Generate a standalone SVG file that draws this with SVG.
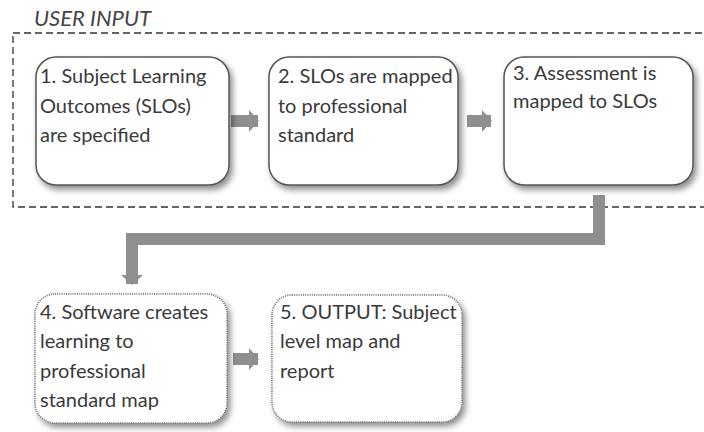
<svg xmlns="http://www.w3.org/2000/svg" width="704" height="432" viewBox="0 0 704 432">
<defs>
<filter id="sh" x="-10%" y="-10%" width="125%" height="130%">
<feDropShadow dx="3" dy="4" stdDeviation="3" flood-color="#000" flood-opacity="0.45"/>
</filter>
<marker id="ah" viewBox="0 0 10 22" refX="9" refY="11" markerWidth="10" markerHeight="22" markerUnits="userSpaceOnUse" orient="auto">
<path d="M0,0 L10,11 L0,22 Z" fill="#8f8f8f"/>
</marker>
</defs>
<style>
.box{fill:#fff;stroke:#555;stroke-width:1.5}
.dot{fill:#fff;stroke:#666;stroke-width:1.5;stroke-dasharray:1 1.2}
.t{font-family:Lato,"Open Sans",sans-serif;font-size:20px;fill:#3a3a3a}
.conn{fill:none;stroke:#8f8f8f;stroke-width:12}
</style>
<text x="34" y="26" font-family="Lato,'Open Sans',sans-serif" font-size="22" font-style="italic" fill="#444">USER INPUT</text>
<rect x="13" y="33" width="700" height="174" fill="none" stroke="#333" stroke-width="1.3" stroke-dasharray="7 4"/>
<g id="connectors">
<line class="conn" x1="231" y1="121" x2="258" y2="121" marker-end="url(#ah)"/>
<line class="conn" x1="467" y1="121" x2="491" y2="121" marker-end="url(#ah)"/>
<polyline class="conn" points="599,195 599,239 132,239 132,284" marker-end="url(#ah)"/>
<line class="conn" x1="233" y1="359" x2="258" y2="359" marker-end="url(#ah)"/>
</g>
<g id="n1">
<rect class="box" x="36" y="57" width="193" height="128" rx="20" filter="url(#sh)"/>
<text class="t" x="40" y="83">1. Subject Learning</text>
<text class="t" x="40" y="113">Outcomes (SLOs)</text>
<text class="t" x="40" y="142">are specified</text>
</g>
<g id="n2">
<rect class="box" x="269" y="57" width="189" height="128" rx="20" filter="url(#sh)"/>
<text class="t" x="278" y="83">2. SLOs are mapped</text>
<text class="t" x="278" y="113">to professional</text>
<text class="t" x="278" y="142">standard</text>
</g>
<g id="n3">
<rect class="box" x="504" y="57" width="189" height="128" rx="20" filter="url(#sh)"/>
<text class="t" x="513" y="80">3. Assessment is</text>
<text class="t" x="513" y="108">mapped to SLOs</text>
</g>
<g id="n4">
<rect class="dot" x="35" y="294" width="192" height="129" rx="20" filter="url(#sh)"/>
<text class="t" x="40" y="319">4. Software creates</text>
<text class="t" x="40" y="348">learning to</text>
<text class="t" x="40" y="378">professional</text>
<text class="t" x="40" y="407">standard map</text>
</g>
<g id="n5">
<rect class="dot" x="272" y="295" width="190" height="127" rx="20" filter="url(#sh)"/>
<text class="t" x="280" y="319">5. OUTPUT: Subject</text>
<text class="t" x="280" y="348">level map and</text>
<text class="t" x="280" y="378">report</text>
</g>
</svg>
